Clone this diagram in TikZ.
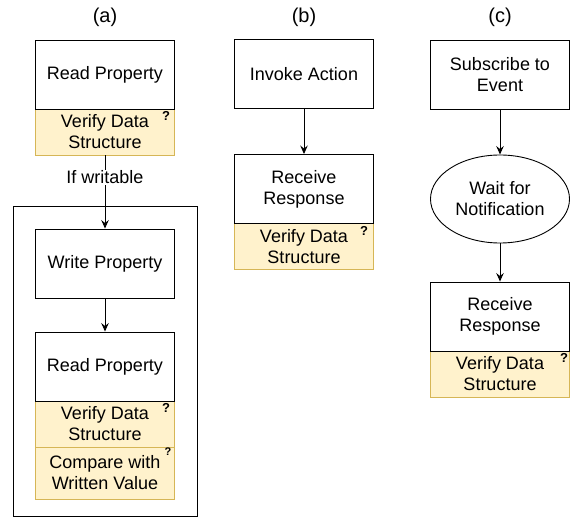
\documentclass[tikz,border=0pt]{standalone}
\usepackage{fontspec}
\setmainfont{Liberation Sans}
\usepackage{tikz}
\usetikzlibrary{shapes,arrows,arrows.meta}
\definecolor{checkfill}{HTML}{FFF2CC}
\definecolor{checkline}{HTML}{D6B656}
\tikzstyle{block} = [rectangle, draw, fill=white, align=center, minimum width=139pt, minimum height=69pt, inner sep=0pt]
\tikzstyle{check} = [rectangle, draw=checkline, fill=checkfill, align=center, minimum width=139pt, minimum height=46pt, inner sep=0pt]
\tikzstyle{waitnode} = [ellipse, draw, align=center, minimum width=139pt, minimum height=88pt, inner sep=0pt]
\tikzstyle{group} = [rectangle, draw, minimum width=184pt, minimum height=310pt]
\tikzstyle{line} = [draw, -{Stealth[length=8.5pt, width=7.5pt, inset=3pt]}]
\tikzstyle{qmark} = [font=\fontsize{13}{13}\selectfont\bfseries, inner sep=0pt]
\tikzstyle{caption} = [font=\fontsize{20}{24}\selectfont]
\begin{document}
\begin{tikzpicture}[x=1pt, y=-1pt, line width=0.9pt, font=\fontsize{18}{21}\selectfont]
			\useasboundingbox (0,0) rectangle (572,518);
			% (a) read / write property
			\node [caption] (capa) at (105,17) {(a)};
			\node [group] (writegroup) at (105,361) {};
			\node [check] (vds1) at (105,132) {Verify Data\\Structure};
			\node [block, above of=vds1, node distance=57.5pt] (rp1) {Read Property};
			\node [block] (wp) at (105,263.5) {Write Property};
			\node [check] (vds2) at (105,424) {Verify Data\\Structure};
			\node [block, above of=vds2, node distance=57.5pt] (rp2) {Read Property};
			\node [check, below of=vds2, node distance=49pt, minimum height=52pt] (cmp) {Compare with\\Written Value};
			\node [qmark] (q1) at (166,116) {?};
			\node [qmark] (q2) at (166,408) {?};
			\node [qmark, font=\fontsize{11}{11}\selectfont\bfseries] (q3) at (168,452) {?};
			% (b) invoke action
			\node [caption] (capb) at (304,17) {(b)};
			\node [block] (ia) at (304,74) {Invoke Action};
			\node [check] (vds3) at (304,246.5) {Verify Data\\Structure};
			\node [block, above of=vds3, node distance=57.5pt] (rr1) {Receive\\Response};
			\node [qmark] (q4) at (364,231) {?};
			% (c) subscribe to event
			\node [caption] (capc) at (500,17) {(c)};
			\node [block] (se) at (500,74.5) {Subscribe to\\Event};
			\node [waitnode] (wn) at (500,199) {Wait for\\Notification};
			\node [check] (vds4) at (500,374) {Verify Data\\Structure};
			\node [block, above of=vds4, node distance=57.5pt] (rr2) {Receive\\Response};
			\node [qmark] (q5) at (564,358) {?};
			% connectors
			\path [line] (vds1) -- node [pos=0.3, fill=white, inner sep=1pt] (iflabel) {If writable} (wp);
			\path [line] (wp) -- (rp2);
			\path [line] (ia) -- (rr1);
			\path [line] (se) -- (wn);
			\path [line] (wn) -- (rr2);
		\end{tikzpicture}
\end{document}
